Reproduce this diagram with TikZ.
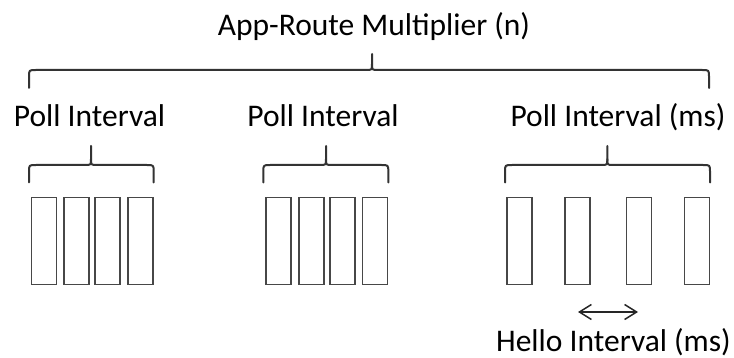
\documentclass[tikz,border=0pt]{standalone}
\usepackage{fontspec}
\setmainfont{Carlito}
\usetikzlibrary{arrows.meta}
\newcommand\curlybrace[6]{% x1, x2, tip x, horizontal y, end y, top y
  \draw[brc] (#1,#5) -- (#1,#4+7) .. controls (#1,#4) .. (#1+7,#4) -- (#3-6,#4)
     .. controls (#3,#4) .. (#3,#4-6) -- (#3,#6);
  \draw[brc] (#2,#5) -- (#2,#4+7) .. controls (#2,#4) .. (#2-7,#4) -- (#3+6,#4)
     .. controls (#3,#4) .. (#3,#4-6);
}
\begin{document}
\begin{tikzpicture}[x=1pt,y=-1pt,
  lbl/.style={inner sep=0pt, anchor=base, font=\fontsize{31.5}{36}\selectfont, text=black},
  cell/.style={draw=black!72, line width=1.7pt, minimum width=25pt, minimum height=87pt, inner sep=0pt},
  brc/.style={draw=black!80, line width=2pt, line cap=round, line join=round},
  dbl/.style={draw=black!85, line width=1.5pt, {Straight Barb[length=12pt,width=15pt]}-{Straight Barb[length=12pt,width=15pt]}}]
\useasboundingbox (0,0) rectangle (734,358);

% labels
\node[lbl] (mult) at (374,35.5) {App-Route Multiplier (n)};
\node[lbl] (poll1) at (89.5,127) {Poll Interval};
\node[lbl] (poll2) at (323,127) {Poll Interval};
\node[lbl] (poll3) at (618,127) {Poll Interval (ms)};
\node[lbl] (hello) at (613.5,351) {Hello Interval (ms)};

% braces
\curlybrace{29}{709}{372}{70}{88}{54}
\curlybrace{29}{153.7}{91}{165}{182.5}{146}
\curlybrace{263.3}{388.3}{326}{165}{182.5}{146}
\curlybrace{505}{710}{607.3}{165}{182.5}{146}

% cells
\foreach \n/\x in {a1/44, a2/76.5, a3/107.7, a4/140.2,
                   b1/278.7, b2/311.3, b3/342.4, b4/375,
                   c1/519.3, c2/577.3, c3/639, c4/697}
  \node[cell] (\n) at (\x,241) {};

% hello interval arrow
\coordinate (hl) at (578,312);
\coordinate (hr) at (638,312);
\draw[dbl] (hl) -- (hr);
\end{tikzpicture}
\end{document}
